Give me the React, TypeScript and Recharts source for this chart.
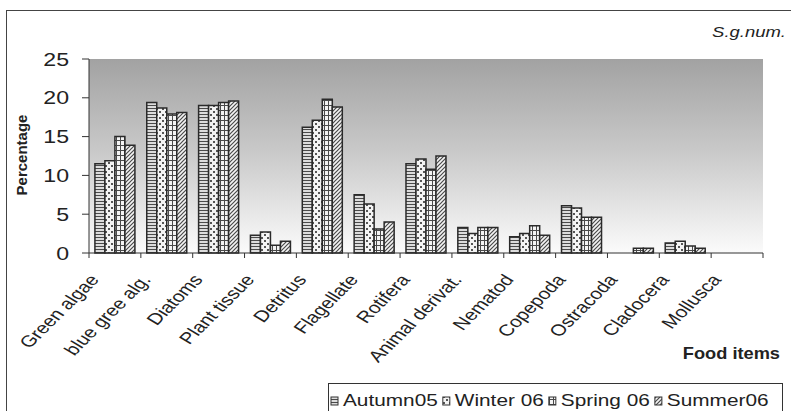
import React from 'react';
import { BarChart, Bar, XAxis, YAxis, CartesianGrid } from 'recharts';

// Food items (x categories)
const CATEGORIES = [
  'Green algae',
  'blue gree alg.',
  'Diatoms',
  'Plant tissue',
  'Detritus',
  'Flagellate',
  'Rotifera',
  'Animal derivat.',
  'Nematod',
  'Copepoda',
  'Ostracoda',
  'Cladocera',
  'Mollusca',
];

// Percentage of each food item per season
const AUTUMN05 = [11.5, 19.4, 19.0, 2.3, 16.2, 7.5, 11.5, 3.3, 2.1, 6.1, 0, 1.3, 0];
const WINTER06 = [11.9, 18.7, 19.0, 2.7, 17.1, 6.3, 12.1, 2.5, 2.5, 5.8, 0, 1.5, 0];
const SPRING06 = [15.0, 17.9, 19.4, 1.0, 19.8, 3.1, 10.8, 3.3, 3.5, 4.6, 0.6, 0.9, 0];
const SUMMER06 = [13.9, 18.1, 19.6, 1.5, 18.8, 4.0, 12.5, 3.3, 2.3, 4.6, 0.6, 0.6, 0];

const SERIES_NAMES = ['Autumn05', 'Winter 06', 'Spring 06', 'Summer06'];
const SERIES_KEYS = ['autumn', 'winter', 'spring', 'summer'];
const SERIES_PATTERNS = ['pat-autumn', 'pat-winter', 'pat-spring', 'pat-summer'];

const Y_TICKS = [0, 5, 10, 15, 20, 25];

const TITLE = 'S.g.num.';
const Y_LABEL = 'Percentage';
const X_LABEL = 'Food items';

const data = CATEGORIES.map((name, i) => ({
  name,
  autumn: AUTUMN05[i],
  winter: WINTER06[i],
  spring: SPRING06[i],
  summer: SUMMER06[i],
}));

const W = 791;
const H = 411;
const MARGIN = { top: 59, right: 28, left: 0, bottom: 0 };
const Y_AXIS_W = 89;
const X_AXIS_H = 158;
const PLOT_W = W - MARGIN.left - MARGIN.right - Y_AXIS_W;
const BAND = PLOT_W / CATEGORIES.length;

const FONT = '"Liberation Sans", Arial, sans-serif';
const INK = '#222';
const AXIS = '#333';

let measureCtx: CanvasRenderingContext2D | null = null;
function textWidth(text: string, font: string): number {
  if (!measureCtx) measureCtx = document.createElement('canvas').getContext('2d');
  if (!measureCtx) return text.length * 8;
  measureCtx.font = font;
  return measureCtx.measureText(text).width;
}

function YTick(props: any) {
  const { x, y, payload } = props;
  return (
    <text
      transform={`translate(${x - 1},${y}) scale(1.25,1)`}
      textAnchor="end"
      dy="0.36em"
      fontSize={18.5}
      fontFamily={FONT}
      fill={INK}
    >
      {payload.value}
    </text>
  );
}

function XTick(props: any) {
  const { x, y, payload, index } = props;
  const left = x - BAND / 2;
  const right = x + BAND / 2;
  return (
    <g>
      <line x1={left} x2={left} y1={y} y2={y + 5} stroke={AXIS} strokeWidth={1} />
      {index === CATEGORIES.length - 1 && (
        <line x1={right} x2={right} y1={y} y2={y + 5} stroke={AXIS} strokeWidth={1} />
      )}
      <text
        transform={`translate(${x - 15},${y + 27}) scale(1.3,1) rotate(-52)`}
        textAnchor="end"
        fontSize={16}
        fontFamily={FONT}
        fill={INK}
      >
        {payload.value}
      </text>
    </g>
  );
}

function LegendBox() {
  const font = `16px ${FONT}`;
  const stretch = 1.3;
  let cursor = 2;
  const items = SERIES_NAMES.map((name, i) => {
    const iconX = cursor;
    const textX = iconX + 12;
    const w = textWidth(name, font) * stretch;
    cursor = textX + w + 5;
    return (
      <g key={name}>
        <rect
          x={iconX}
          y={13}
          width={7}
          height={8}
          fill={`url(#${SERIES_PATTERNS[i]})`}
          stroke={AXIS}
          strokeWidth={1}
        />
        <text
          transform={`translate(${textX},22) scale(${stretch},1)`}
          fontSize={16}
          fontFamily={FONT}
          fill={INK}
        >
          {name}
        </text>
      </g>
    );
  });
  return (
    <div
      style={{
        position: 'absolute',
        left: 328,
        top: 383,
        width: 455,
        height: 40,
        border: '1px solid #333',
        background: '#fff',
        boxSizing: 'border-box',
      }}
    >
      <svg width={455} height={40} style={{ display: 'block' }}>
        {items}
      </svg>
    </div>
  );
}

export default function App() {
  return (
    <div
      style={{
        position: 'absolute',
        left: 0,
        top: 0,
        width: W,
        height: H,
        overflow: 'hidden',
        background: '#fff',
      }}
    >
      <div
        style={{
          position: 'absolute',
          left: 6,
          top: 10,
          width: 900,
          height: 600,
          border: '1.5px solid #444',
        }}
      />
      <div style={{ position: 'absolute', left: 0, top: 0 }}>
        <BarChart
          width={W}
          height={H}
          data={data}
          margin={MARGIN}
          barCategoryGap="11.4%"
          barGap={0}
        >
          <defs>
            <linearGradient id="plotBg" x1="0" y1="0" x2="0" y2="1">
              <stop offset="0%" stopColor="#a2a2a2" />
              <stop offset="50%" stopColor="#cbcbcb" />
              <stop offset="100%" stopColor="#fbfbfb" />
            </linearGradient>
            <pattern id="pat-autumn" width={4} height={3} patternUnits="userSpaceOnUse">
              <rect width={4} height={3} fill="#dcdcdc" />
              <line x1={0} x2={4} y1={0.5} y2={0.5} stroke="#4a4a4a" strokeWidth={1} />
            </pattern>
            <pattern id="pat-winter" width={6} height={6} patternUnits="userSpaceOnUse">
              <rect width={6} height={6} fill="#f4f4f4" />
              <rect x={0} y={0} width={2} height={2} fill="#555" />
              <rect x={3} y={3} width={2} height={2} fill="#555" />
            </pattern>
            <pattern id="pat-spring" width={4} height={5} patternUnits="userSpaceOnUse">
              <rect width={4} height={5} fill="#f4f4f4" />
              <line x1={0.5} x2={0.5} y1={0} y2={5} stroke="#4a4a4a" strokeWidth={1} />
              <line x1={0} x2={4} y1={0.5} y2={0.5} stroke="#4a4a4a" strokeWidth={1} />
            </pattern>
            <pattern id="pat-summer" width={4} height={4} patternUnits="userSpaceOnUse">
              <rect width={4} height={4} fill="#f4f4f4" />
              <path d="M-1,1 L1,-1 M0,4 L4,0 M3,5 L5,3" stroke="#4a4a4a" strokeWidth={1.2} />
            </pattern>
          </defs>
          <CartesianGrid
            horizontal={false}
            vertical={false}
            stroke="none"
            fill="url(#plotBg)"
          />
          <XAxis
            dataKey="name"
            height={X_AXIS_H}
            interval={0}
            tickLine={false}
            tickSize={0}
            tickMargin={0}
            axisLine={{ stroke: AXIS, strokeWidth: 1 }}
            tick={<XTick />}
          />
          <YAxis
            width={Y_AXIS_W}
            domain={[0, 25]}
            ticks={Y_TICKS}
            interval={0}
            tickSize={7}
            tickMargin={12}
            tickLine={{ stroke: AXIS, strokeWidth: 1 }}
            axisLine={{ stroke: AXIS, strokeWidth: 1 }}
            tick={<YTick />}
          />
          {SERIES_KEYS.map((key, i) => (
            <Bar
              key={key}
              dataKey={key}
              name={SERIES_NAMES[i]}
              fill={`url(#${SERIES_PATTERNS[i]})`}
              stroke="#2a2a2a"
              strokeWidth={1.5}
              isAnimationActive={false}
            />
          ))}
        </BarChart>
      </div>
      <svg
        width={W}
        height={H}
        style={{ position: 'absolute', left: 0, top: 0, pointerEvents: 'none' }}
      >
        <text
          transform="translate(786,37) scale(1.32,1)"
          textAnchor="end"
          fontSize={14}
          fontStyle="italic"
          fontFamily={FONT}
          fill={INK}
        >
          {TITLE}
        </text>
        <text
          transform="translate(27,155) rotate(-90)"
          textAnchor="middle"
          fontSize={15}
          fontWeight="bold"
          fontFamily={FONT}
          fill={INK}
        >
          {Y_LABEL}
        </text>
        <text
          transform="translate(780,359) scale(1.14,1)"
          textAnchor="end"
          fontSize={16}
          fontWeight="bold"
          fontFamily={FONT}
          fill={INK}
        >
          {X_LABEL}
        </text>
      </svg>
      <LegendBox />
    </div>
  );
}
